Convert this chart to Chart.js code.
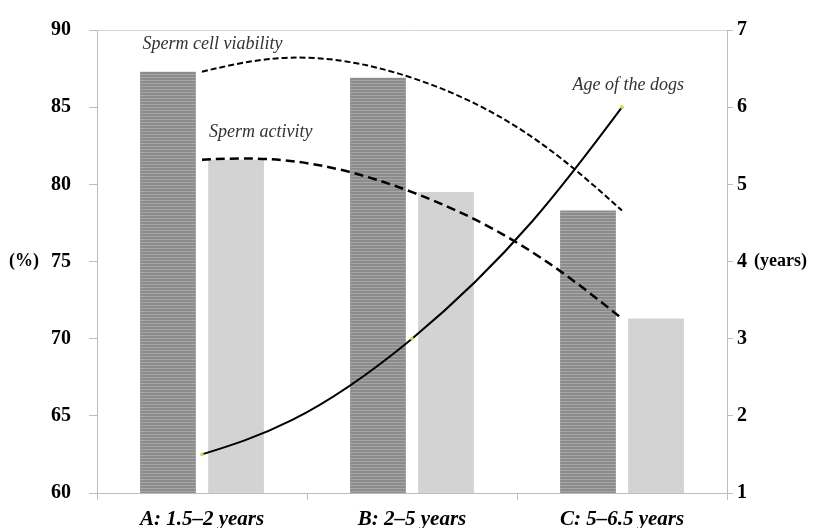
<!DOCTYPE html>
<html lang="en">
<head>
<meta charset="UTF-8">
<title>Sperm quality and age of the dogs</title>
<script src="https://cdn.jsdelivr.net/npm/chart.js"></script>
<style>
  body { margin: 0; background: #fff; }
  #wrap { width: 827px; height: 528px; }
</style>
</head>
<body>
<div id="wrap"><canvas id="chart" width="827" height="528"></canvas></div>
<script>
var groups = ['A: 1.5\u20132 years', 'B: 2\u20135 years', 'C: 5\u20136.5 years'];
var viability = [87.3, 86.9, 78.3];   // %
var activity = [81.6, 79.5, 71.3];    // %
var dogAge = [1.5, 3, 6];             // years
// captions of the curves: [category position, value on the % axis]
var captions = [
  { text: 'Sperm cell viability', at: [0.05, 89.05] },
  { text: 'Sperm activity', at: [0.28, 83.4] },
  { text: 'Age of the dogs', at: [2.03, 86.4] }
];

var serif = '"Liberation Serif", "Times New Roman", serif';
var axisGrey = '#bdbdbd';
var smoothK = 0.7; // how far the spreadsheet-style smoothing swings

// horizontal stripes for the viability bars
function stripes() {
  var c = document.createElement('canvas');
  c.width = 4; c.height = 3;
  var g = c.getContext('2d');
  g.fillStyle = '#8c8c8c';
  g.fillRect(0, 0, 4, 3);
  g.fillStyle = '#a6a6a6';
  g.fillRect(0, 2, 4, 1);
  return g.createPattern(c, 'repeat');
}

// smoothed line like the spreadsheet one: bezier through the points,
// interior tangents from the neighbours, free (natural) ends
function smoothPath(ctx, pts) {
  var n = pts.length, t = [], i;
  ctx.moveTo(pts[0].x, pts[0].y);
  if (n < 3) { ctx.lineTo(pts[n - 1].x, pts[n - 1].y); return; }
  for (i = 1; i < n - 1; i++) {
    t[i] = { x: smoothK * (pts[i + 1].x - pts[i - 1].x), y: smoothK * (pts[i + 1].y - pts[i - 1].y) };
  }
  t[0] = { x: (3 * (pts[1].x - pts[0].x) - t[1].x) / 2, y: (3 * (pts[1].y - pts[0].y) - t[1].y) / 2 };
  t[n - 1] = {
    x: (3 * (pts[n - 1].x - pts[n - 2].x) - t[n - 2].x) / 2,
    y: (3 * (pts[n - 1].y - pts[n - 2].y) - t[n - 2].y) / 2
  };
  for (i = 0; i < n - 1; i++) {
    ctx.bezierCurveTo(pts[i].x + t[i].x / 3, pts[i].y + t[i].y / 3,
      pts[i + 1].x - t[i + 1].x / 3, pts[i + 1].y - t[i + 1].y / 3,
      pts[i + 1].x, pts[i + 1].y);
  }
}

var curvePlugin = {
  id: 'smoothCurves',
  beforeDatasetDraw: function(chart, args) {
    var ds = chart.data.datasets[args.index];
    if (!ds.smooth) return;
    var ctx = chart.ctx;
    ctx.save();
    ctx.beginPath();
    smoothPath(ctx, args.meta.data.map(function(p) { return { x: p.x, y: p.y }; }));
    ctx.strokeStyle = ds.borderColor;
    ctx.lineWidth = ds.borderWidth;
    ctx.setLineDash(ds.borderDash || []);
    ctx.lineJoin = 'round';
    ctx.stroke();
    ctx.restore();
  }
};

var labelPlugin = {
  id: 'captions',
  afterDatasetsDraw: function(chart) {
    var ctx = chart.ctx, x = chart.scales.x, y = chart.scales.y, y1 = chart.scales.y1;
    ctx.save();
    ctx.font = 'italic 18px ' + serif;
    ctx.fillStyle = '#333';
    ctx.textAlign = 'center';
    ctx.textBaseline = 'middle';
    captions.forEach(function(c) {
      ctx.fillText(c.text, x.getPixelForValue(c.at[0]), y.getPixelForValue(c.at[1]));
    });
    // axis units, level with the middle tick
    ctx.font = 'bold 18px ' + serif;
    ctx.fillStyle = '#000';
    ctx.textAlign = 'left';
    ctx.fillText('(%)', y.left + 9, y.getPixelForValue(75));
    ctx.fillText('(years)', y1.left + 27, y1.getPixelForValue(4));
    ctx.restore();
  }
};

var ctx = document.getElementById('chart').getContext('2d');
new Chart(ctx, {
  data: {
    labels: groups,
    datasets: [
      {
        type: 'line', label: 'Sperm cell viability', data: viability, yAxisID: 'y', order: 0,
        smooth: true, showLine: false, borderColor: '#000', borderWidth: 2, borderDash: [6, 3],
        pointRadius: 0
      },
      {
        type: 'line', label: 'Sperm activity', data: activity, yAxisID: 'y', order: 0,
        smooth: true, showLine: false, borderColor: '#000', borderWidth: 2.5, borderDash: [9, 5],
        pointRadius: 0
      },
      {
        type: 'line', label: 'Age of the dogs', data: dogAge, yAxisID: 'y1', order: 0,
        smooth: true, showLine: false, borderColor: '#000', borderWidth: 2,
        pointRadius: 1.8, pointBackgroundColor: '#d6d24a', pointBorderWidth: 0
      },
      {
        type: 'bar', label: 'Sperm cell viability (%)', data: viability, yAxisID: 'y', order: 1,
        backgroundColor: stripes(), borderWidth: 0,
        categoryPercentage: 0.648, barPercentage: 0.82
      },
      {
        type: 'bar', label: 'Sperm activity (%)', data: activity, yAxisID: 'y', order: 1,
        backgroundColor: '#d3d3d3', borderWidth: 0,
        categoryPercentage: 0.648, barPercentage: 0.82
      }
    ]
  },
  options: {
    responsive: false,
    animation: false,
    layout: { padding: { top: 20, right: 0, bottom: 0, left: 0 } },
    plugins: { legend: { display: false }, tooltip: { enabled: false } },
    scales: {
      x: {
        offset: true,
        grid: { offset: true, drawOnChartArea: false, tickLength: 7, tickColor: axisGrey },
        border: { color: axisGrey },
        ticks: { color: '#000', padding: 7, font: { family: serif, size: 21, weight: 'bold', style: 'italic' } },
        afterFit: function(s) { s.height = 35; }
      },
      y: {
        position: 'left', min: 60, max: 90,
        grid: {
          color: function(c) { return c.tick && c.tick.value === 90 ? '#d4d4d4' : 'rgba(0,0,0,0)'; },
          tickLength: 8, tickColor: axisGrey
        },
        border: { color: axisGrey },
        ticks: { stepSize: 5, color: '#000', padding: 18, font: { family: serif, size: 20, weight: 'bold' } },
        afterFit: function(s) { s.width = 97; }
      },
      y1: {
        position: 'right', min: 1, max: 7,
        grid: { drawOnChartArea: false, tickLength: 6, tickColor: axisGrey },
        border: { color: axisGrey },
        ticks: { stepSize: 1, color: '#000', padding: 4, font: { family: serif, size: 20, weight: 'bold' } },
        afterFit: function(s) { s.width = 100; }
      }
    }
  },
  plugins: [curvePlugin, labelPlugin]
});
</script>
</body>
</html>
